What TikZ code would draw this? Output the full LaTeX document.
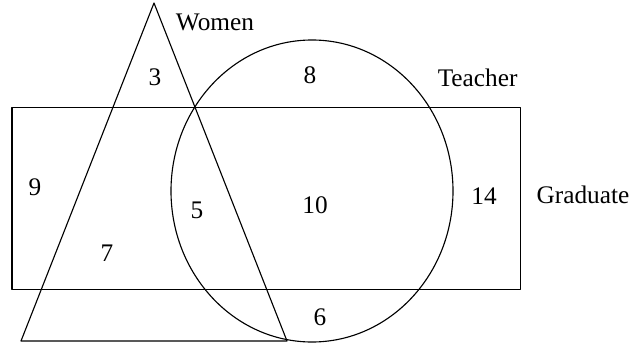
\documentclass[tikz,border=0pt]{standalone}
\usepackage{fontspec}
\setmainfont{Liberation Serif}
\usepackage{tikz}
\tikzset{
  every picture/.style={line join=round, line cap=round},
  setline/.style={line width=0.8pt},
  setlabel/.style={font=\fontsize{18}{21}\selectfont, inner sep=0pt},
}

\begin{document}
\begin{tikzpicture}[setlabel]
\useasboundingbox (0,0) rectangle (15.875,8.625);
\draw[setline] (3.85,8.55) -- (0.525,0.1) -- (7.175,0.1) -- cycle;
\draw[setline] (7.8,3.85) ellipse (3.525 and 3.775);
\draw[setline] (0.3,1.39) rectangle (13.01,5.93);
\node (women) at (5.375,8.075) {Women};
\node (teacher) at (11.94,6.675) {Teacher};
\node (graduate) at (14.575,3.75) {Graduate};
\node (n3) at (3.875,6.7) {3};
\node (n8) at (7.75,6.75) {8};
\node (n9) at (0.875,3.95) {9};
\node (n5) at (4.925,3.375) {5};
\node (n10) at (7.875,3.5) {10};
\node (n14) at (12.1,3.725) {14};
\node (n7) at (2.675,2.3) {7};
\node (n6) at (8.0,0.7) {6};
\end{tikzpicture}
\end{document}
